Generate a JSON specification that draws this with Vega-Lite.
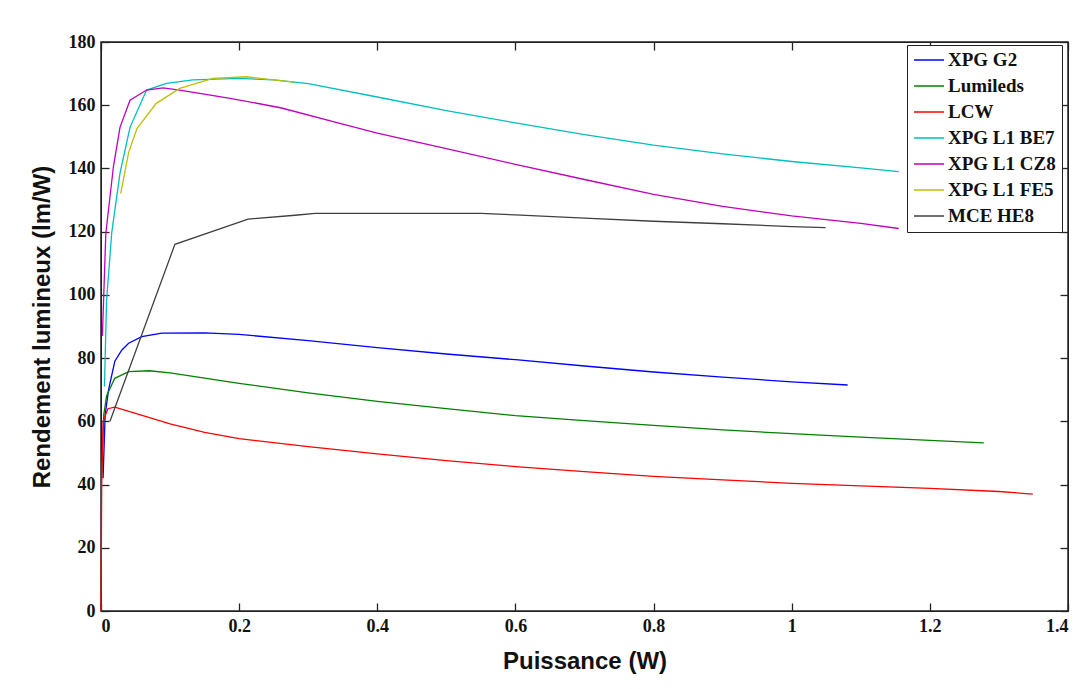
{
  "$schema": "https://vega.github.io/schema/vega-lite/v6.json",
  "width": 967,
  "height": 569,
  "autosize": {"type": "none"},
  "padding": {"left": 101, "top": 42, "right": 15, "bottom": 78},
  "background": "white",
  "config": {
    "view": {"stroke": "#222222", "strokeWidth": 1.5},
    "axis": {
      "grid": false,
      "domainColor": "#222222",
      "tickColor": "#222222",
      "tickSize": -8,
      "tickWidth": 1.3,
      "labelFont": "Liberation Serif",
      "labelFontWeight": "bold",
      "labelFontSize": 18,
      "labelColor": "#111111",
      "titleFont": "Liberation Sans",
      "titleFontWeight": "bold",
      "titleFontSize": 24,
      "titleColor": "#111111"
    }
  },
  "data": {
    "values": [
      {"s": "XPG G2", "x": 0.003, "y": 42}, {"s": "XPG G2", "x": 0.006, "y": 62}, {"s": "XPG G2", "x": 0.011, "y": 70}, {"s": "XPG G2", "x": 0.02, "y": 79}, {"s": "XPG G2", "x": 0.03, "y": 82.5}, {"s": "XPG G2", "x": 0.04, "y": 84.7}, {"s": "XPG G2", "x": 0.059, "y": 86.8}, {"s": "XPG G2", "x": 0.088, "y": 87.9}, {"s": "XPG G2", "x": 0.15, "y": 88}, {"s": "XPG G2", "x": 0.2, "y": 87.5}, {"s": "XPG G2", "x": 0.3, "y": 85.5}, {"s": "XPG G2", "x": 0.4, "y": 83.3}, {"s": "XPG G2", "x": 0.5, "y": 81.3}, {"s": "XPG G2", "x": 0.6, "y": 79.5}, {"s": "XPG G2", "x": 0.7, "y": 77.5}, {"s": "XPG G2", "x": 0.8, "y": 75.6}, {"s": "XPG G2", "x": 0.9, "y": 74}, {"s": "XPG G2", "x": 1.0, "y": 72.5}, {"s": "XPG G2", "x": 1.081, "y": 71.5},
      {"s": "Lumileds", "x": 0.001, "y": 42}, {"s": "Lumileds", "x": 0.004, "y": 62}, {"s": "Lumileds", "x": 0.008, "y": 68}, {"s": "Lumileds", "x": 0.02, "y": 73.6}, {"s": "Lumileds", "x": 0.04, "y": 75.7}, {"s": "Lumileds", "x": 0.07, "y": 76}, {"s": "Lumileds", "x": 0.1, "y": 75.3}, {"s": "Lumileds", "x": 0.2, "y": 72}, {"s": "Lumileds", "x": 0.3, "y": 69}, {"s": "Lumileds", "x": 0.4, "y": 66.3}, {"s": "Lumileds", "x": 0.5, "y": 64}, {"s": "Lumileds", "x": 0.6, "y": 61.8}, {"s": "Lumileds", "x": 0.7, "y": 60.2}, {"s": "Lumileds", "x": 0.8, "y": 58.7}, {"s": "Lumileds", "x": 0.9, "y": 57.3}, {"s": "Lumileds", "x": 1.0, "y": 56.1}, {"s": "Lumileds", "x": 1.1, "y": 55}, {"s": "Lumileds", "x": 1.2, "y": 54}, {"s": "Lumileds", "x": 1.278, "y": 53.2},
      {"s": "LCW", "x": 0, "y": 0}, {"s": "LCW", "x": 0.001, "y": 40}, {"s": "LCW", "x": 0.003, "y": 60}, {"s": "LCW", "x": 0.01, "y": 64}, {"s": "LCW", "x": 0.02, "y": 64.5}, {"s": "LCW", "x": 0.05, "y": 62.5}, {"s": "LCW", "x": 0.1, "y": 59.2}, {"s": "LCW", "x": 0.15, "y": 56.5}, {"s": "LCW", "x": 0.2, "y": 54.5}, {"s": "LCW", "x": 0.3, "y": 52}, {"s": "LCW", "x": 0.4, "y": 49.7}, {"s": "LCW", "x": 0.5, "y": 47.6}, {"s": "LCW", "x": 0.6, "y": 45.7}, {"s": "LCW", "x": 0.7, "y": 44.1}, {"s": "LCW", "x": 0.8, "y": 42.6}, {"s": "LCW", "x": 0.9, "y": 41.5}, {"s": "LCW", "x": 1.0, "y": 40.4}, {"s": "LCW", "x": 1.1, "y": 39.6}, {"s": "LCW", "x": 1.2, "y": 38.8}, {"s": "LCW", "x": 1.3, "y": 37.8}, {"s": "LCW", "x": 1.349, "y": 37},
      {"s": "XPG L1 BE7", "x": 0.005, "y": 71}, {"s": "XPG L1 BE7", "x": 0.008, "y": 98}, {"s": "XPG L1 BE7", "x": 0.0155, "y": 119.6}, {"s": "XPG L1 BE7", "x": 0.0275, "y": 138.5}, {"s": "XPG L1 BE7", "x": 0.042, "y": 153}, {"s": "XPG L1 BE7", "x": 0.066, "y": 164.8}, {"s": "XPG L1 BE7", "x": 0.095, "y": 166.9}, {"s": "XPG L1 BE7", "x": 0.133, "y": 168}, {"s": "XPG L1 BE7", "x": 0.2, "y": 168.5}, {"s": "XPG L1 BE7", "x": 0.25, "y": 168}, {"s": "XPG L1 BE7", "x": 0.3, "y": 166.8}, {"s": "XPG L1 BE7", "x": 0.4, "y": 162.6}, {"s": "XPG L1 BE7", "x": 0.5, "y": 158.3}, {"s": "XPG L1 BE7", "x": 0.6, "y": 154.4}, {"s": "XPG L1 BE7", "x": 0.7, "y": 150.7}, {"s": "XPG L1 BE7", "x": 0.8, "y": 147.4}, {"s": "XPG L1 BE7", "x": 0.9, "y": 144.6}, {"s": "XPG L1 BE7", "x": 1.0, "y": 142.2}, {"s": "XPG L1 BE7", "x": 1.1, "y": 140.2}, {"s": "XPG L1 BE7", "x": 1.155, "y": 139},
      {"s": "XPG L1 CZ8", "x": 0.002, "y": 87}, {"s": "XPG L1 CZ8", "x": 0.004, "y": 100}, {"s": "XPG L1 CZ8", "x": 0.007, "y": 119.6}, {"s": "XPG L1 CZ8", "x": 0.018, "y": 140.6}, {"s": "XPG L1 CZ8", "x": 0.0275, "y": 153}, {"s": "XPG L1 CZ8", "x": 0.042, "y": 161.6}, {"s": "XPG L1 CZ8", "x": 0.066, "y": 164.8}, {"s": "XPG L1 CZ8", "x": 0.09, "y": 165.5}, {"s": "XPG L1 CZ8", "x": 0.114, "y": 164.8}, {"s": "XPG L1 CZ8", "x": 0.187, "y": 162.2}, {"s": "XPG L1 CZ8", "x": 0.26, "y": 159.2}, {"s": "XPG L1 CZ8", "x": 0.35, "y": 154}, {"s": "XPG L1 CZ8", "x": 0.4, "y": 151.2}, {"s": "XPG L1 CZ8", "x": 0.5, "y": 146.3}, {"s": "XPG L1 CZ8", "x": 0.6, "y": 141.3}, {"s": "XPG L1 CZ8", "x": 0.7, "y": 136.5}, {"s": "XPG L1 CZ8", "x": 0.8, "y": 131.8}, {"s": "XPG L1 CZ8", "x": 0.9, "y": 128}, {"s": "XPG L1 CZ8", "x": 1.0, "y": 125}, {"s": "XPG L1 CZ8", "x": 1.1, "y": 122.6}, {"s": "XPG L1 CZ8", "x": 1.155, "y": 121},
      {"s": "XPG L1 FE5", "x": 0.0285, "y": 132}, {"s": "XPG L1 FE5", "x": 0.04, "y": 145}, {"s": "XPG L1 FE5", "x": 0.052, "y": 152.6}, {"s": "XPG L1 FE5", "x": 0.08, "y": 160.6}, {"s": "XPG L1 FE5", "x": 0.114, "y": 165.3}, {"s": "XPG L1 FE5", "x": 0.162, "y": 168.5}, {"s": "XPG L1 FE5", "x": 0.211, "y": 169}, {"s": "XPG L1 FE5", "x": 0.259, "y": 167.8}, {"s": "XPG L1 FE5", "x": 0.28, "y": 167.3},
      {"s": "MCE HE8", "x": 0.013, "y": 60}, {"s": "MCE HE8", "x": 0.107, "y": 116}, {"s": "MCE HE8", "x": 0.213, "y": 124}, {"s": "MCE HE8", "x": 0.281, "y": 125.2}, {"s": "MCE HE8", "x": 0.31, "y": 125.8}, {"s": "MCE HE8", "x": 0.55, "y": 125.8}, {"s": "MCE HE8", "x": 0.6, "y": 125.3}, {"s": "MCE HE8", "x": 0.7, "y": 124.3}, {"s": "MCE HE8", "x": 0.8, "y": 123.3}, {"s": "MCE HE8", "x": 0.9, "y": 122.5}, {"s": "MCE HE8", "x": 1.0, "y": 121.6}, {"s": "MCE HE8", "x": 1.049, "y": 121.3}
    ]
  },
  "layer": [
    {
      "mark": {"type": "line", "strokeWidth": 1.3},
      "encoding": {
        "x": {
          "field": "x", "type": "quantitative",
          "scale": {"domain": [0, 1.4], "nice": false, "zero": false},
          "axis": {"values": [0, 0.2, 0.4, 0.6, 0.8, 1, 1.2, 1.4], "format": "~g", "title": "Puissance (W)", "labelPadding": 14, "titlePadding": 14}
        },
        "y": {
          "field": "y", "type": "quantitative",
          "scale": {"domain": [0, 180], "nice": false},
          "axis": {"values": [0, 20, 40, 60, 80, 100, 120, 140, 160, 180], "title": "Rendement lumineux (lm/W)", "labelPadding": 14, "titlePadding": 14}
        },
        "color": {
          "field": "s", "type": "nominal",
          "scale": {
            "domain": ["XPG G2", "Lumileds", "LCW", "XPG L1 BE7", "XPG L1 CZ8", "XPG L1 FE5", "MCE HE8"],
            "range": ["#0000ff", "#008000", "#ff0000", "#00bfbf", "#bf00bf", "#bfbf00", "#404040"]
          },
          "legend": {
            "title": null,
            "orient": "none",
            "legendX": 806,
            "legendY": 3,
            "padding": 6,
            "strokeColor": "#222222",
            "fillColor": "white",
            "symbolType": "stroke",
            "symbolSize": 900,
            "symbolStrokeWidth": 1.5,
            "clipHeight": 18,
            "labelFont": "Liberation Serif",
            "labelFontWeight": "bold",
            "labelFontSize": 19,
            "labelColor": "#111111",
            "labelOffset": 3,
            "rowPadding": 7
          }
        }
      }
    },
    {
      "mark": {"type": "line", "opacity": 0},
      "encoding": {
        "x": {
          "field": "x", "type": "quantitative",
          "scale": {"domain": [0, 1.4], "nice": false, "zero": false},
          "axis": {"orient": "top", "values": [0, 0.2, 0.4, 0.6, 0.8, 1, 1.2, 1.4], "labels": false, "title": null}
        },
        "y": {
          "field": "y", "type": "quantitative",
          "scale": {"domain": [0, 180], "nice": false},
          "axis": {"orient": "right", "values": [0, 20, 40, 60, 80, 100, 120, 140, 160, 180], "labels": false, "title": null}
        },
        "detail": {"field": "s", "type": "nominal"}
      }
    }
  ],
  "resolve": {"axis": {"x": "independent", "y": "independent"}}
}
